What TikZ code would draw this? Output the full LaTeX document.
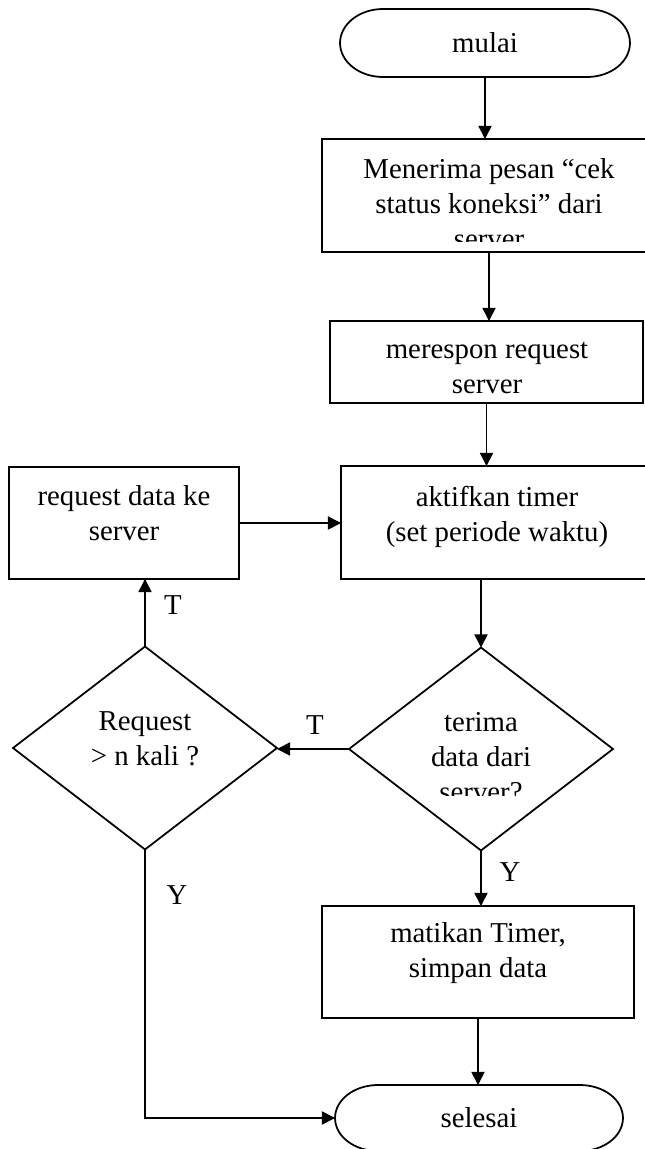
\documentclass[tikz,border=0pt]{standalone}
\usepackage{fontspec}
\setmainfont{Liberation Serif}
\usetikzlibrary{shapes.geometric,arrows.meta}

\begin{document}
\begin{tikzpicture}[x=0.02cm,y=-0.02cm,
    every node/.style={inner sep=0pt,outer sep=0pt,font=\fontsize{16.4}{20}\selectfont},
    proses/.style={draw,line width=1pt,rectangle},
    keputusan/.style={draw,line width=1pt,diamond,minimum width=5.28cm,minimum height=4.06cm},
    terminal/.style={rectangle},
    garis/.style={line width=1pt},
    teks/.style={align=center},
    panah/.style={line width=0.9pt,-{Triangle[length=7.5pt,width=7.5pt]}}]
            \useasboundingbox (0,0) rectangle (645,1149);
            \clip (0,0) rectangle (645,1149);
            \node [terminal,minimum width=5.8cm,minimum height=1.36cm] (mulai) at (485,43) {mulai};
            \draw [garis] ([xshift=0.86cm]mulai.north west) -- ([xshift=-0.86cm]mulai.north east)
                arc [start angle=90,end angle=-90,x radius=0.86cm,y radius=0.68cm]
                -- ([xshift=0.86cm]mulai.south west)
                arc [start angle=270,end angle=90,x radius=0.86cm,y radius=0.68cm] -- cycle;
            \node [proses,minimum width=6.68cm,minimum height=2.26cm] (pesan) at (489,195.5) {};
            \begin{scope}
            \clip (322,139) rectangle (656,241);
            \node [teks] (pesanteks) at (489,203.5) {Menerima pesan “cek\\status koneksi” dari\\server};
            \end{scope}
            \node [proses,minimum width=6.26cm,minimum height=1.64cm] (respon) at (486.5,362) {};
            \node [teks] (responteks) at (487,368) {merespon request\\server};
            \node [proses,minimum width=6.24cm,minimum height=2.26cm] (timer) at (497,522.5) {};
            \node [teks] (timerteks) at (497,516.5) {aktifkan timer\\(set periode waktu)};
            \node [proses,minimum width=4.6cm,minimum height=2.24cm] (kirim) at (124,523) {};
            \node [teks] (kirimteks) at (124,513) {request data ke\\server};
            \node [keputusan] (cek) at (481,749) {};
            \begin{scope}
            \clip (349,647) rectangle (613,795);
            \node [teks] (cekteks) at (481,757) {terima\\data dari\\server?};
            \end{scope}
            \node [keputusan] (ulang) at (145,748) {};
            \node [teks] (ulangteks) at (145,739) {Request\\> n kali ?};
            \node [proses,minimum width=6.24cm,minimum height=2.24cm] (matikan) at (478,962) {};
            \node [teks] (matikanteks) at (478,953) {matikan Timer,\\simpan data};
            \node [terminal,minimum width=5.76cm,minimum height=1.32cm] (selesai) at (479,1118) {selesai};
            \draw [garis] ([xshift=0.86cm]selesai.north west) -- ([xshift=-0.86cm]selesai.north east)
                arc [start angle=90,end angle=-90,x radius=0.86cm,y radius=0.66cm]
                -- ([xshift=0.86cm]selesai.south west)
                arc [start angle=270,end angle=90,x radius=0.86cm,y radius=0.66cm] -- cycle;
            \draw [panah] (mulai.south) -- (mulai.south |- pesan.north);
            \draw [panah] (pesan.south) -- (pesan.south |- respon.north);
            \draw [panah] (respon.south) -- (respon.south |- timer.north);
            \draw [panah] (cek.north |- timer.south) -- (cek.north);
            \draw [panah] (kirim.east) -- (kirim.east -| timer.west);
            \draw [panah] (cek.west) -- (cek.west -| ulang.east);
            \node (tulang) at (315,725) {T};
            \draw [panah] (ulang.north) -- (ulang.north |- kirim.south);
            \node (tkirim) at (173,605) {T};
            \draw [panah] (ulang.south) |- (selesai.west);
            \node (yselesai) at (177,895) {Y};
            \draw [panah] (cek.south) -- (cek.south |- matikan.north);
            \node (ymatikan) at (510,872) {Y};
            \draw [panah] (matikan.south) -- (matikan.south |- selesai.north);
            \end{tikzpicture}
\end{document}
